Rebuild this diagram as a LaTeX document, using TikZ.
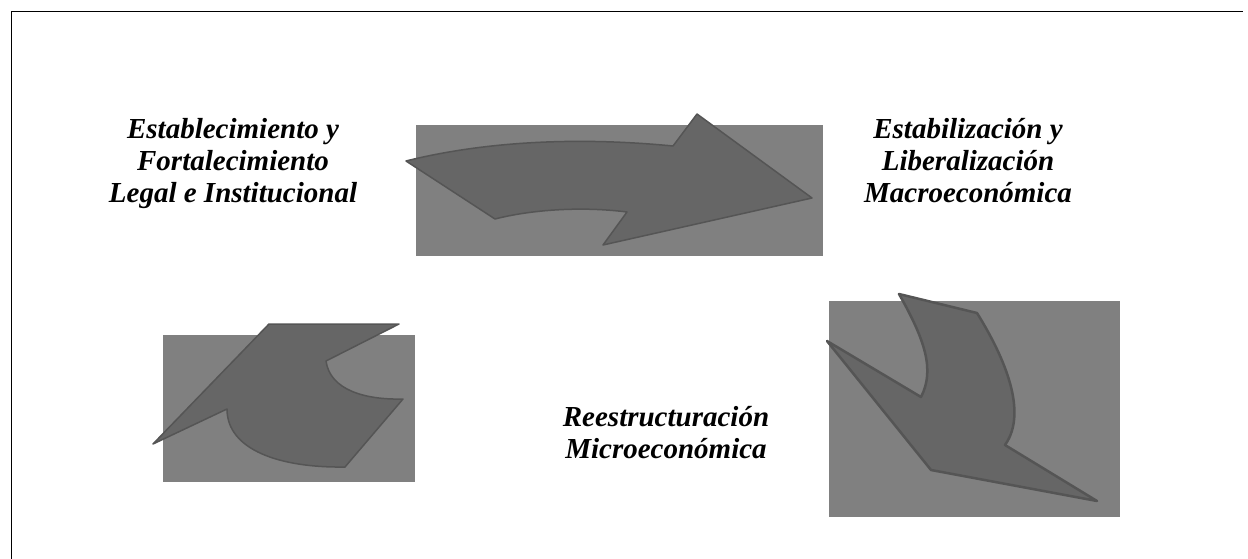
\documentclass[tikz,border=0pt]{standalone}
\usepackage{fontspec}
\setmainfont{Liberation Serif}
\definecolor{boxgray}{HTML}{808080}
\definecolor{arrowfill}{HTML}{666666}
\definecolor{arrowline}{HTML}{555555}
\tikzset{
  bgbox/.style={fill=boxgray, draw=none},
  arrowshape/.style={fill=arrowfill, draw=arrowline, line width=1.5pt, line join=round},
  label/.style={font=\fontsize{29}{32}\selectfont\bfseries\itshape, align=center, inner sep=0pt},
}
\begin{document}
\begin{tikzpicture}[x=1pt,y=-1pt]
\useasboundingbox (0,0) rectangle (1248,559);
\fill[white] (0,0) rectangle (1248,559);
\draw[line width=1pt] (11,559) -- (11,12) -- (1243,12);

% top arrow
\fill[bgbox] (416,125) rectangle (823,256);
\draw[arrowshape] (406,161) .. controls (470,145) and (560,135) .. (673,146)
  -- (697,114) -- (812,198) -- (603,245) -- (627,212)
  .. controls (580,206) and (530,210) .. (495,219) -- cycle;

% bottom-left arrow
\fill[bgbox] (163,335) rectangle (415,482);
\draw[arrowshape] (269,324) -- (399,324) -- (326,361)
  .. controls (330,390) and (365,400) .. (403,399)
  -- (345,467)
  .. controls (280,468) and (227,450) .. (227,409)
  -- (153,444) -- cycle;

% bottom-right arrow
\fill[bgbox] (829,301) rectangle (1120,517);
\draw[arrowshape, line width=2.5pt] (899,294) -- (977,313)
  .. controls (1000,350) and (1030,410) .. (1005,445)
  -- (1097,501) -- (931,470) -- (827,341) -- (921,397)
  .. controls (935,370) and (925,340) .. (899,294) -- cycle;

\node[label] (t1) at (233,164) {Establecimiento y\\Fortalecimiento\\Legal e Institucional};
\node[label] (t2) at (968,161) {Estabilización y\\Liberalización\\Macroeconómica};
\node[label] (t3) at (666,433) {Reestructuración\\Microeconómica};
\end{tikzpicture}
\end{document}
